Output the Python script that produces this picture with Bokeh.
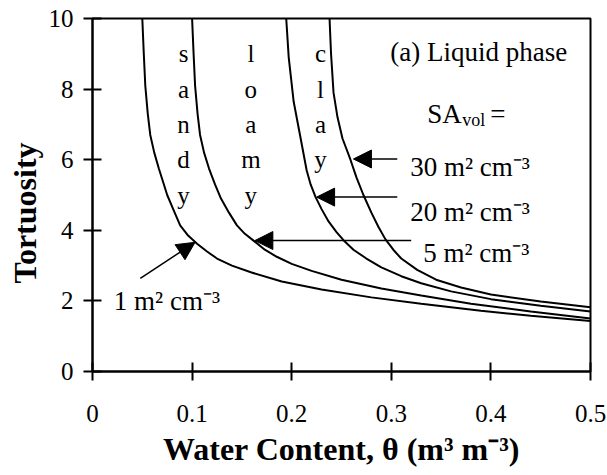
from bokeh.plotting import figure
from bokeh.models import Range1d, FixedTicker, Label, Arrow, NormalHead, Title
from bokeh.embed import file_html
from bokeh.resources import INLINE

# Tortuosity of the liquid phase versus volumetric water content,
# one curve per specific surface area (m2 cm-3)
theta_1 = [0.050, 0.0515, 0.053, 0.0555, 0.058, 0.062, 0.0666, 0.075, 0.081, 0.088,
           0.096, 0.105, 0.115, 0.125, 0.140, 0.159, 0.190, 0.230, 0.280, 0.330,
           0.390, 0.440, 0.500]
tau_1 = [10.0, 9.0, 8.1, 7.3, 6.7, 6.2, 5.75, 5.0, 4.6, 4.14,
         3.85, 3.62, 3.4, 3.2, 3.0, 2.81, 2.55, 2.32, 2.1, 1.92,
         1.72, 1.58, 1.43]

theta_5 = [0.100, 0.1015, 0.103, 0.1055, 0.108, 0.112, 0.117, 0.123, 0.129, 0.137,
           0.145, 0.153, 0.162, 0.173, 0.185, 0.200, 0.220, 0.250, 0.290, 0.330,
           0.380, 0.440, 0.500]
tau_5 = [10.0, 9.0, 8.1, 7.3, 6.7, 6.2, 5.75, 5.3, 4.9, 4.5,
         4.14, 3.9, 3.7, 3.45, 3.25, 3.05, 2.85, 2.6, 2.35, 2.15,
         1.92, 1.7, 1.5]

theta_20 = [0.1945, 0.197, 0.202, 0.209, 0.215, 0.219, 0.224, 0.230, 0.237, 0.245,
            0.252, 0.262, 0.275, 0.290, 0.310, 0.330, 0.360, 0.400, 0.450, 0.500]
tau_20 = [10.0, 8.9, 7.64, 6.6, 5.7, 5.3, 4.94, 4.6, 4.25, 3.95,
          3.72, 3.45, 3.2, 2.95, 2.7, 2.5, 2.27, 2.05, 1.86, 1.7]

theta_30 = [0.238, 0.2395, 0.242, 0.246, 0.251, 0.259, 0.265, 0.272, 0.280, 0.287,
            0.294, 0.302, 0.310, 0.326, 0.345, 0.370, 0.400, 0.450, 0.500]
tau_30 = [10.0, 9.0, 7.9, 7.2, 6.6, 6.0, 5.5, 5.0, 4.5, 4.1,
          3.75, 3.45, 3.2, 2.88, 2.6, 2.38, 2.18, 1.98, 1.82]

curves = [(theta_1, tau_1), (theta_5, tau_5), (theta_20, tau_20), (theta_30, tau_30)]

x_ticks = [0, 0.1, 0.2, 0.3, 0.4, 0.5]
x_tick_labels = ["0", "0.1", "0.2", "0.3", "0.4", "0.5"]
y_ticks = [0, 2, 4, 6, 8, 10]
y_tick_labels = ["0", "2", "4", "6", "8", "10"]

SERIF = "Liberation Serif"

p = figure(width=607, height=475, x_range=Range1d(0, 0.5), y_range=Range1d(0, 10),
           output_backend="svg", toolbar_location=None,
           min_border_left=92, min_border_right=17, min_border_top=18, min_border_bottom=104,
           background_fill_color="white", border_fill_color="white")
p.xgrid.visible = False
p.ygrid.visible = False
p.outline_line_color = "black"
p.outline_line_width = 2
p.outline_line_alpha = 1

p.xaxis.ticker = FixedTicker(ticks=x_ticks)
p.yaxis.ticker = FixedTicker(ticks=y_ticks)
p.xaxis.major_label_overrides = dict(zip(x_ticks, x_tick_labels))
p.yaxis.major_label_overrides = dict(zip(y_ticks, y_tick_labels))
p.xaxis.axis_label = "Water Content, \u03b8 (m\u00b3 m\u207b\u00b3)"

for ax in (p.xaxis[0], p.yaxis[0]):
    ax.axis_line_color = "black"
    ax.axis_line_width = 2
    ax.major_tick_line_color = "black"
    ax.major_tick_line_width = 2
    ax.major_tick_in = 9
    ax.major_tick_out = 9
    ax.minor_tick_line_color = None
    ax.major_label_text_font = SERIF
    ax.major_label_text_font_size = "25px"
    ax.major_label_text_color = "black"
    ax.axis_label_text_font = SERIF
    ax.axis_label_text_font_style = "bold"
    ax.axis_label_text_font_size = "32px"
    ax.axis_label_text_color = "black"

p.xaxis.major_label_standoff = 24
p.yaxis.major_label_standoff = 10
p.xaxis.axis_label_standoff = 6

# y-axis title, starting a little above the bottom of the frame
p.add_layout(Title(text="Tortuosity", align="left", offset=88, standoff=6,
                   text_font=SERIF, text_font_style="bold", text_font_size="32px",
                   text_color="black"), "left")

for xs, ys in curves:
    p.line(xs, ys, line_color="black", line_width=2)

# soil texture names written vertically between the curves
soil_words = [("sandy", 0.0914), ("loamy", 0.159), ("clay", 0.229)]
for word, xw in soil_words:
    for i, ch in enumerate(word):
        p.add_layout(Label(x=xw, y=9.0 - i, text=ch, text_align="center",
                           text_baseline="alphabetic", text_font=SERIF,
                           text_font_size="25px", text_color="black"))

def note(x, y, text, size="27px", **kw):
    p.add_layout(Label(x=x, y=y, text=text, text_font=SERIF, text_font_size=size,
                       text_baseline="alphabetic", text_color="black", **kw))

note(0.299, 9.05, "(a) Liquid phase")
note(0.336, 7.3, "SA")
note(0.336, 7.3, "vol", size="18px", x_offset=35, y_offset=-6)
note(0.336, 7.3, "=", x_offset=63)
note(0.319, 5.79, "30 m\u00b2 cm\u207b\u00b3")
note(0.319, 4.52, "20 m\u00b2 cm\u207b\u00b3")
note(0.332, 3.35, "5 m\u00b2 cm\u207b\u00b3")
note(0.0214, 2.01, "1 m\u00b2 cm\u207b\u00b3")

# arrows pointing from each surface-area label to its curve
arrows = [(0.306, 6.02, 0.262, 6.02),
          (0.306, 4.94, 0.225, 4.94),
          (0.320, 3.71, 0.163, 3.71),
          (0.048, 2.64, 0.103, 3.66)]
for xs0, ys0, xe, ye in arrows:
    p.add_layout(Arrow(x_start=xs0, y_start=ys0, x_end=xe, y_end=ye,
                       line_color="black", line_width=1.5,
                       end=NormalHead(size=18, fill_color="black", line_color="black")))

open("out.html", "w").write(file_html(p, INLINE))
